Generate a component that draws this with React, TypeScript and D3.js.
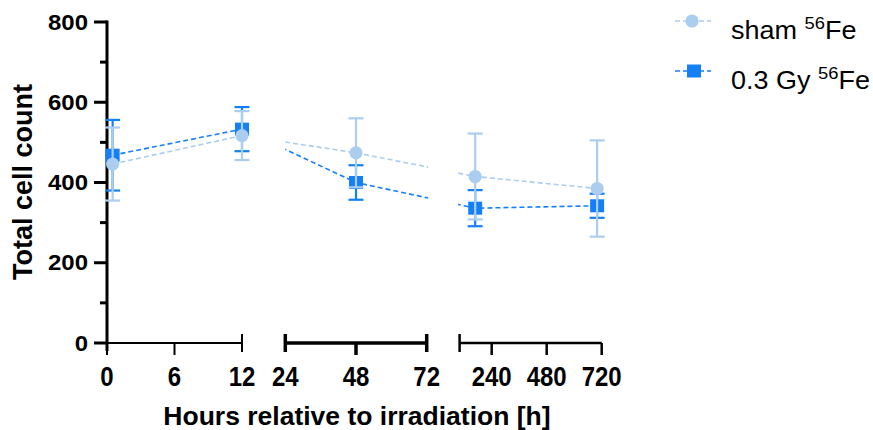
import React from "react";
import * as d3 from "d3";

// ---- data ----
const hours = [0.5, 12, 48, 168, 700];
const shamMean = [446, 517, 474, 415, 385];
const shamErr = [91, 61, 86, 107, 120];
const gyMean = [468, 533, 400, 336, 342];
const gyErr = [88, 55, 43, 45, 30];
const yTicks = [0, 200, 400, 600, 800];
const yMinor = [100, 300, 500, 700];
const segTicks = [[0, 6, 12], [24, 48, 72], [240, 480, 720]];
const segDomains = [[0, 12], [24, 72], [100, 720]];
const seriesNames = ["sham", "0.3 Gy"];

// ---- layout ----
const W = 873, H = 430;
const segRanges = [[107, 242], [285.3, 426.7], [459.6, 601.7]];
const segWidths = [2, 3.5, 2.5];
const segCapStart = [false, true, true];
const segCapEnd = [true, true, false];
const LIGHT = "#abcdef";
const DARK = "#1580f6";
const FONT = "Liberation Sans, Arial, sans-serif";

const y = d3.scaleLinear().domain([0, 800]).range([343, 22]);
const segScales = segDomains.map((d, i) => d3.scaleLinear().domain(d).range(segRanges[i]));
function x(v: number) {
  for (let i = segDomains.length - 1; i >= 0; i--) {
    if (v >= segDomains[i][0]) return segScales[i](v);
  }
  return segScales[0](v);
}

const lineGen = d3.line<[number, number]>().x(d => x(d[0])).y(d => y(d[1]));

function Series({ means, errs, color, shape, clipId }: any) {
  const pts = hours.map((h, i) => [h, means[i]] as [number, number]);
  return (
    <g>
      <path d={lineGen(pts) || ""} fill="none" stroke={color} strokeWidth={1.6}
        strokeDasharray="5,3" clipPath={`url(#${clipId})`} />
      {hours.map((h, i) => {
        const cx = x(h);
        const hi = y(means[i] + errs[i]);
        const lo = y(means[i] - errs[i]);
        return (
          <g key={i} stroke={color} strokeWidth={2.2}>
            <line x1={cx} x2={cx} y1={hi} y2={lo} />
            <line x1={cx - 7.5} x2={cx + 7.5} y1={hi} y2={hi} />
            <line x1={cx - 7.5} x2={cx + 7.5} y1={lo} y2={lo} />
          </g>
        );
      })}
      {hours.map((h, i) => {
        const cx = x(h), cy = y(means[i]);
        return shape === "circle"
          ? <circle key={"m" + i} cx={cx} cy={cy} r={6.6} fill={color} />
          : <rect key={"m" + i} x={cx - 7} y={cy - 6.5} width={14} height={13} fill={color} />;
      })}
    </g>
  );
}

export default function App() {
  const x0 = 107;
  return (
    <svg width={W} height={H} style={{ display: "block", position: "absolute", left: 0, top: 0 }}
      fontFamily={FONT}>
      <defs>
        <clipPath id="segclip">
          <rect x={0} y={0} width={segRanges[0][1]} height={H} />
          <rect x={segRanges[1][0]} y={0} width={segRanges[1][1] - segRanges[1][0] + 1.5} height={H} />
          <rect x={segRanges[2][0] - 1.5} y={0} width={W - segRanges[2][0]} height={H} />
        </clipPath>
      </defs>
      {/* Y axis */}
      <line x1={x0} x2={x0} y1={y(800) - 1.5} y2={351} stroke="#000" strokeWidth={3} />
      {yTicks.map(t => (
        <g key={t}>
          <line x1={x0 - 13} x2={x0} y1={y(t)} y2={y(t)} stroke="#000" strokeWidth={3} />
          <text x={88} y={y(t)} textAnchor="end" dominantBaseline="central" fontWeight="bold"
            fontSize={24} transform={`translate(0 ${y(t)}) scale(1 0.9) translate(0 ${-y(t)})`}>{t}</text>
        </g>
      ))}
      {yMinor.map(t => (
        <line key={t} x1={x0 - 7} x2={x0} y1={y(t)} y2={y(t)} stroke="#000" strokeWidth={3} />
      ))}
      <text transform={`translate(32 182) rotate(-90)`} textAnchor="middle" fontWeight="bold" fontSize={27}>
        Total cell count
      </text>
      {/* X axis segments */}
      {segScales.map((s, i) => {
        const [r0, r1] = segRanges[i];
        const w = segWidths[i];
        const ay = 343;
        return (
          <g key={i} stroke="#000" strokeWidth={w}>
            <line x1={i === 0 ? x0 - 2 : r0} x2={r1} y1={ay} y2={ay} />
            {segCapStart[i] && <line x1={r0} x2={r0} y1={ay - 9} y2={ay + 9} />}
            {segCapEnd[i] && <line x1={r1} x2={r1} y1={ay - 9} y2={ay + 9} />}
            {segTicks[i].map(t => (
              (segCapStart[i] && t === segDomains[i][0]) || (segCapEnd[i] && t === segDomains[i][1]) ? null :
                <line key={t} x1={s(t)} x2={s(t)} y1={ay} y2={ay + 12} />
            ))}
          </g>
        );
      })}
      {segScales.map((s, i) => segTicks[i].map(t => (
        <text key={i + "-" + t} x={s(t)} y={386} textAnchor="middle" fontWeight="bold" fontSize={24}
          transform={`translate(0 386) scale(1 1.12) translate(0 -386)`}>{t}</text>
      )))}
      <text x={357} y={425} textAnchor="middle" fontWeight="bold" fontSize={26.5}>
        Hours relative to irradiation [h]
      </text>
      {/* data */}
      <Series means={gyMean} errs={gyErr} color={DARK} shape="rect" clipId="segclip" />
      <Series means={shamMean} errs={shamErr} color={LIGHT} shape="circle" clipId="segclip" />
      {/* legend */}
      {[0, 1].map(i => {
        const ly = i === 0 ? 21 : 71;
        const color = i === 0 ? LIGHT : DARK;
        const mx = i === 0 ? 692 : 694;
        return (
          <g key={i}>
            <line x1={675} x2={711} y1={ly} y2={ly} stroke={color} strokeWidth={1.6} strokeDasharray="5,3" />
            {i === 0
              ? <circle cx={mx} cy={ly} r={6.6} fill={color} />
              : <rect x={mx - 7} y={ly - 6.5} width={14} height={13} fill={color} />}
            <text x={731} y={ly + 18} fontSize={25}
              transform={`translate(731 0) scale(1.08 1) translate(-731 0)`}>
              {seriesNames[i] + " "}
              <tspan fontSize={17} dy={-10}>56</tspan>
              <tspan dy={10}>Fe</tspan>
            </text>
          </g>
        );
      })}
    </svg>
  );
}
